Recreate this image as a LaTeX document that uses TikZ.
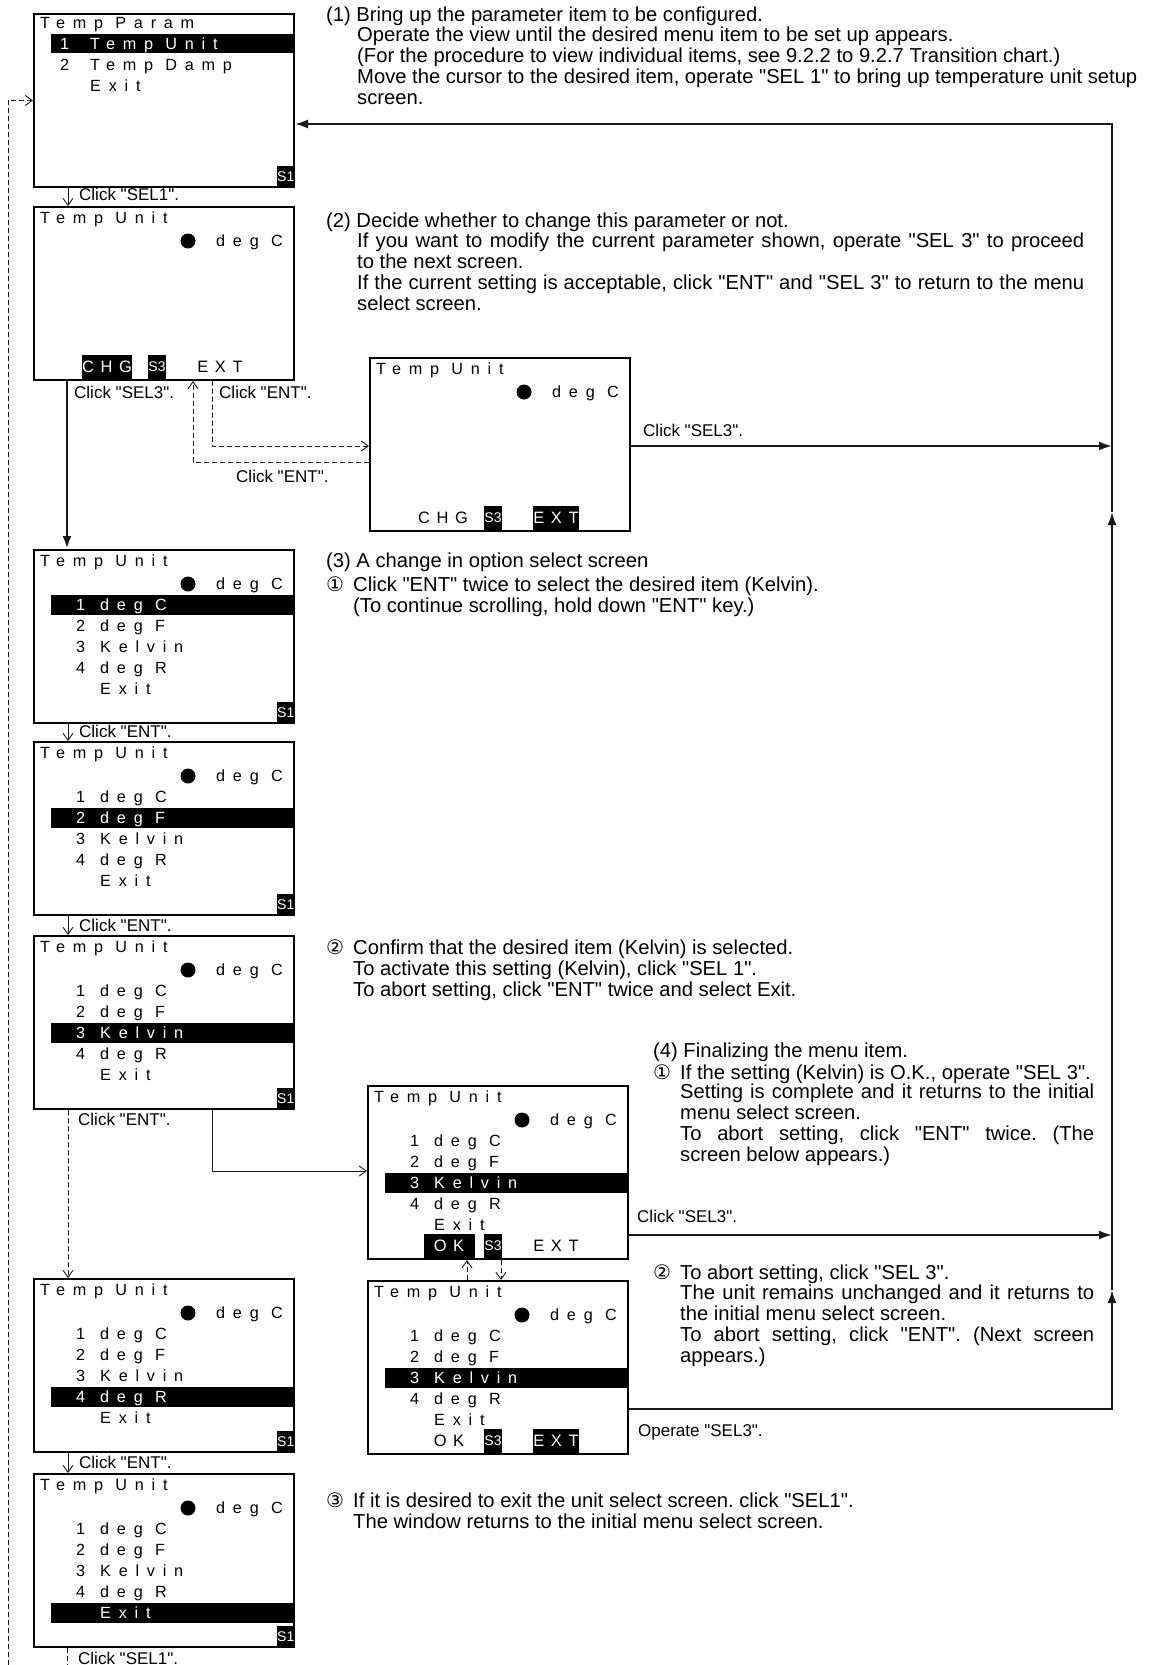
\documentclass[tikz,border=0pt]{standalone}
\usepackage{fontspec}
\setmainfont{Liberation Sans}[Ligatures=TeXOff]
\newfontfamily\lcdfont[LetterSpace=48]{Liberation Sans}
\newfontfamily\keyfont[LetterSpace=40]{Liberation Sans}
\newfontfamily\circfont{DejaVu Sans}
\usepackage{tikz}
\usetikzlibrary{arrows.meta}
\colorlet{colbg}{white}
\colorlet{colfg}{black}
\colorlet{colline}{black!90}
\tikzstyle{screen}=[draw=colfg, line width=2pt, anchor=north west, minimum width=260pt, minimum height=173pt, inner sep=0pt]
\tikzstyle{lcd}=[font=\lcdfont\fontsize{16.2}{16.2}\selectfont, text=colfg, anchor=base west, inner sep=0pt]
\tikzstyle{keytag}=[fill=colfg, text=colbg, font=\fontsize{14}{14}\selectfont, inner sep=0pt, minimum width=18pt, minimum height=22pt]
\tikzstyle{softkey}=[font=\keyfont\fontsize{16.5}{16.5}\selectfont, text=colfg, anchor=center, inner sep=0pt, minimum width=45pt, minimum height=24pt]
\tikzstyle{softkeyon}=[softkey, fill=colfg, text=colbg]
\tikzstyle{note}=[font=\frenchspacing\fontsize{20.2}{20.7}\selectfont, text=colfg, anchor=base west, inner sep=0pt, align=left]
\tikzstyle{clicklbl}=[font=\fontsize{17}{17}\selectfont, text=colfg, anchor=base west, inner sep=0pt]
\tikzstyle{flowline}=[draw=colline, line width=2pt]
\tikzstyle{flow}=[flowline, -{Latex[length=13pt,width=9pt]}]
\tikzstyle{hop}=[draw=colline, line width=0.9pt, -{Straight Barb[length=7pt,width=10pt]}]
\tikzstyle{dashhop}=[hop, dash pattern=on 5pt off 3pt]
\tikzstyle{dashline}=[draw=colline, line width=0.9pt, dash pattern=on 5pt off 3pt]
% screen frame with title and current unit
\newcommand{\unitscreen}[3]{%
  \node[screen] (#1) at (#2,#3) {};
  \node[lcd] (#1-title) at (#2+7,#3+17) {Temp Unit};
  \fill[colfg] (#2+155,#3+35) circle (7.5);
  \node[lcd] (#1-unit) at (#2+183,#3+40) {deg C};
}
% one row of the unit list, inverted when selected
\newcommand{\unitrow}[6]{%
  \ifnum#3=#4
    \fill[colfg] (#1+18,#2+25+21*#3) rectangle (#1+260,#2+44.5+21*#3);
    \node[lcd,text=colbg] at (#1+43,#2+40+21*#3) {#5};
    \node[lcd,text=colbg] at (#1+67,#2+40+21*#3) {#6};
  \else
    \node[lcd] at (#1+43,#2+40+21*#3) {#5};
    \node[lcd] at (#1+67,#2+40+21*#3) {#6};
  \fi}
\newcommand{\unitlist}[3]{%
  \unitrow{#1}{#2}{1}{#3}{1}{deg C}
  \unitrow{#1}{#2}{2}{#3}{2}{deg F}
  \unitrow{#1}{#2}{3}{#3}{3}{Kelvin}
  \unitrow{#1}{#2}{4}{#3}{4}{deg R}
  \unitrow{#1}{#2}{5}{#3}{}{Exit}}
\newcommand{\cnum}[1]{\makebox[27pt][l]{\circfont\fontsize{20}{20}\selectfont#1}}
\newcommand{\fitline}[2]{\makebox[#1][s]{#2}}

\begin{document}
\begin{tikzpicture}[x=1pt,y=-1pt]
      \useasboundingbox (0,0) rectangle (1165,1665);

      % Parameter menu
      \node[screen] (s1) at (33,13) {};
      \node[lcd] (s1-title) at (40,28) {Temp Param};
      \fill[colfg] (51,34) rectangle (293,53);
      \node[lcd,text=colbg] (s1-n1) at (60,49) {1};
      \node[lcd,text=colbg] (s1-i1) at (90,49) {Temp Unit};
      \node[lcd] (s1-n2) at (60,70) {2};
      \node[lcd] (s1-i2) at (90,70) {Temp Damp};
      \node[lcd] (s1-i3) at (90,91) {Exit};
      \node[keytag,anchor=south east] (s1-key) at (s1.south east) {S1};

      % Unit screen, change or exit
      \unitscreen{s2}{33}{206}
      \node[softkeyon] (s2-chg) at (107,367) {CHG};
      \node[keytag,minimum width=17pt,minimum height=24pt] (s2-s3) at (157,367) {S3};
      \node[softkey] (s2-ext) at (220,367) {EXT};

      \unitscreen{sA}{369}{357}
      \node[softkey] (sA-chg) at (443,518) {CHG};
      \node[keytag,minimum width=17pt,minimum height=24pt] (sA-s3) at (493,518) {S3};
      \node[softkeyon] (sA-ext) at (556,518) {EXT};

      % Unit lists on the left
      \unitscreen{s3}{33}{549}
      \unitlist{33}{549}{1}
      \node[keytag,anchor=south east] (s3-key) at (s3.south east) {S1};
      \unitscreen{s4}{33}{741}
      \unitlist{33}{741}{2}
      \node[keytag,anchor=south east] (s4-key) at (s4.south east) {S1};
      \unitscreen{s5}{33}{935}
      \unitlist{33}{935}{3}
      \node[keytag,anchor=south east] (s5-key) at (s5.south east) {S1};
      \unitscreen{s6}{33}{1278}
      \unitlist{33}{1278}{4}
      \node[keytag,anchor=south east] (s6-key) at (s6.south east) {S1};
      \unitscreen{s7}{33}{1473}
      \unitlist{33}{1473}{5}
      \node[keytag,anchor=south east] (s7-key) at (s7.south east) {S1};

      % Confirm screens
      \unitscreen{sB}{367}{1085}
      \unitlist{367}{1085}{3}
      \node[softkeyon,minimum width=51pt] (sB-ok) at (449,1246) {OK};
      \node[keytag,minimum width=17pt,minimum height=24pt] (sB-s3) at (493,1246) {S3};
      \node[softkey] (sB-ext) at (556,1246) {EXT};
      \unitscreen{sC}{367}{1280}
      \unitlist{367}{1280}{3}
      \node[softkey,minimum width=51pt] (sC-ok) at (449,1441) {OK};
      \node[keytag,minimum width=17pt,minimum height=24pt] (sC-s3) at (493,1441) {S3};
      \node[softkeyon] (sC-ext) at (556,1441) {EXT};

      % Helper points
      \coordinate (hx) at (68,0);
      \coordinate (cx) at (67,0);
      \coordinate (lb) at (8,1665);
      \coordinate (bb) at (67,1665);
      \coordinate (e1) at (212,446);
      \coordinate (e2) at (193,462);
      \coordinate (k1) at (212,1171);
      \coordinate (u1) at (467,0);
      \coordinate (u2) at (501,0);
      \coordinate (rt) at (1112,124);
      \coordinate (rm1) at (1112,512);
      \coordinate (ra) at (1112,446);
      \coordinate (rb) at (1112,1235);
      \coordinate (rm2) at (1112,1290);
      \coordinate (rc) at (1112,1409);

      % Left column
      \draw[hop] (s1.south -| hx) -- (s2.north -| hx);
      \draw[flow,line width=2.5pt] (s2.south -| cx) -- (s3.north -| cx);
      \draw[hop] (s3.south -| hx) -- (s4.north -| hx);
      \draw[hop] (s4.south -| hx) -- (s5.north -| hx);
      \draw[dashhop] (s5.south -| hx) -- (s6.north -| hx);
      \draw[hop] (s6.south -| hx) -- (s7.north -| hx);
      \draw[dashline] (s7.south -| bb) -- (bb);
      \draw[dashhop] (lb) -- (lb |- s1.west) -- (s1.west);

      % Change / exit loop
      \draw[dashhop] (s2.south -| e1) -- (e1) -- (e1 -| sA.west);
      \draw[dashhop] (e2 -| sA.west) -- (e2) -- (s2.south -| e2);
      \draw[hop] (s5.south -| k1) -- (k1) -- (k1 -| sB.west);
      \draw[dashhop] (sC.north -| u1) -- (sB.south -| u1);
      \draw[dashhop] (sB.south -| u2) -- (sC.north -| u2);

      % Return rail
      \draw[flow] (ra -| sA.east) -- (ra);
      \draw[flow] (rb -| sB.east) -- (rb);
      \draw[flow] (rc -| sC.east) -- (rc) -- (rm2);
      \draw[flow] (rm2) -- (rm1);
      \draw[flow] (rm1) -- (rt) -- (rt -| s1.east);

      % Connector labels
      \node[clicklbl] (c1) at (79,200) {Click "SEL1".};
      \node[clicklbl] (c2) at (74,398) {Click "SEL3".};
      \node[clicklbl] (c3) at (219,398) {Click "ENT".};
      \node[clicklbl] (c4) at (236,482) {Click "ENT".};
      \node[clicklbl] (c5) at (643,436) {Click "SEL3".};
      \node[clicklbl] (c6) at (79,737) {Click "ENT".};
      \node[clicklbl] (c7) at (79,931) {Click "ENT".};
      \node[clicklbl] (c8) at (78,1125) {Click "ENT".};
      \node[clicklbl] (c9) at (637,1222) {Click "SEL3".};
      \node[clicklbl] (c10) at (638,1436) {Operate "SEL3".};
      \node[clicklbl] (c11) at (79,1468) {Click "ENT".};
      \node[clicklbl] (c12) at (78,1664) {Click "SEL1".};

      % Explanations (multi-line nodes sit on their last baseline)
      \node[note] (n1) at (326,21) {(1) Bring up the parameter item to be configured.};
      \node[note] (n1b) at (357,104) {Operate the view until the desired menu item to be set up appears.\\(For the procedure to view individual items, see 9.2.2 to 9.2.7 Transition chart.)\\Move the cursor to the desired item, operate "SEL 1" to bring up temperature unit setup\\screen.};
      \node[note] (n2) at (326,227) {(2) Decide whether to change this parameter or not.};
      \node[note] (n2b) at (357,310) {\fitline{727pt}{If you want to modify the current parameter shown, operate "SEL 3" to proceed}\\to the next screen.\\\fitline{727pt}{If the current setting is acceptable, click "ENT" and "SEL 3" to return to the menu}\\select screen.};
      \node[note] (n3) at (326,567) {(3) A change in option select screen};
      \node[note] (n3a) at (326,591) {\cnum{①}Click "ENT" twice to select the desired item (Kelvin).};
      \node[note] (n3b) at (353,612) {(To continue scrolling, hold down "ENT" key.)};
      \node[note] (n3c) at (326,954) {\cnum{②}Confirm that the desired item (Kelvin) is selected.};
      \node[note] (n3d) at (353,996) {To activate this setting (Kelvin), click "SEL 1".\\To abort setting, click "ENT" twice and select Exit.};
      \node[note] (n4) at (653,1057) {(4) Finalizing the menu item.};
      \node[note] (n4a) at (653,1079) {\cnum{①}If the setting (Kelvin) is O.K., operate "SEL 3".};
      \node[note] (n4b) at (680,1161) {\fitline{414pt}{Setting is complete and it returns to the initial}\\menu select screen.\\\fitline{414pt}{To abort setting, click "ENT" twice. (The}\\screen below appears.)};
      \node[note] (n4c) at (653,1279) {\cnum{②}To abort setting, click "SEL 3".};
      \node[note] (n4d) at (680,1362) {\fitline{414pt}{The unit remains unchanged and it returns to}\\the initial menu select screen.\\\fitline{414pt}{To abort setting, click "ENT". (Next screen}\\appears.)};
      \node[note] (n5) at (326,1507) {\cnum{③}If it is desired to exit the unit select screen. click "SEL1".};
      \node[note] (n5b) at (353,1528) {The window returns to the initial menu select screen.};
    \end{tikzpicture}
\end{document}
